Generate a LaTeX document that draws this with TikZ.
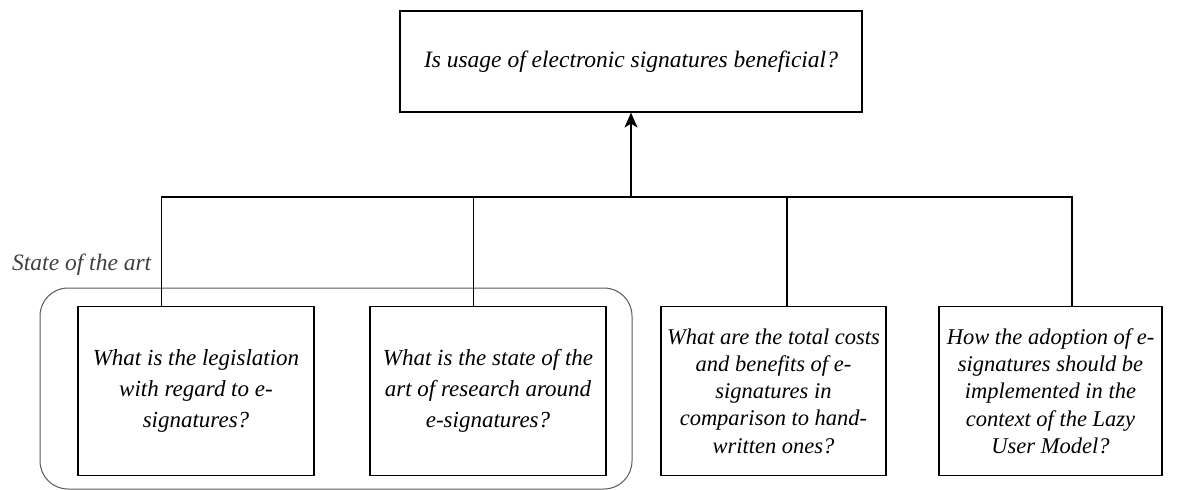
\documentclass[tikz,border=0pt]{standalone}
\usepackage{fontspec}
\setmainfont{Liberation Serif}
\usetikzlibrary{arrows.meta,calc}
\begin{document}
\begin{tikzpicture}[x=1pt,y=-1pt,
  wire/.style={line width=1.2pt, black},
  qbox/.style={draw, line width=1.2pt, align=center, inner sep=0pt,
    font=\fontsize{23}{31}\selectfont\itshape},
  tallbox/.style={qbox, font=\fontsize{22.5}{27.3}\selectfont\itshape},
  group/.style={draw=black!65, line width=1pt, rounded corners=28pt}]
\useasboundingbox (0,0) rectangle (1189,490);

% main question
\node[qbox, minimum width=462pt, minimum height=101pt,
  font=\fontsize{23.5}{28}\selectfont\itshape] (top) at (631,61.5)
  {Is usage of electronic signatures beneficial?};

% sub-questions
\node[qbox, minimum width=236pt, minimum height=169pt] (b1) at (196,391)
  {What is the legislation\\with regard to e-\\signatures?};
\node[qbox, minimum width=236pt, minimum height=169pt] (b2) at (488,391)
  {What is the state of the\\art of research around\\e-signatures?};
\node[tallbox, minimum width=225pt, minimum height=169pt] (b3) at (773.5,391)
  {What are the total costs\\and benefits of e-\\signatures in\\comparison to hand-\\written ones?};
\node[tallbox, minimum width=223pt, minimum height=169pt] (b4) at (1050.5,391)
  {How the adoption of e-\\signatures should be\\implemented in the\\context of the Lazy\\User Model?};

% "state of the art" group frame
\draw[group] (40,288) rectangle (632,489);
\node[font=\fontsize{23.5}{28}\selectfont\itshape, text=black!75, anchor=west, inner sep=0pt]
  (sota) at (12,265) {State of the art};

% connector tree
\coordinate (d1) at ($(b1.north west)!0.354!(b1.north east)$);
\coordinate (d2) at ($(b2.north west)!0.44!(b2.north east)$);
\coordinate (d3) at ($(b3.north west)!0.56!(b3.north east)$);
\coordinate (d4) at ($(b4.north west)!0.596!(b4.north east)$);
\coordinate (bus) at (top.south |- 0,197);
\draw[wire] (d1) |- (bus) -| (d4);
\draw[wire] (d2) -- (d2 |- bus);
\draw[wire] (d3) -- (d3 |- bus);
\draw[wire, -{Stealth[length=15pt, width=13pt, inset=4pt]}] (bus) -- (top.south);
\end{tikzpicture}
\end{document}
